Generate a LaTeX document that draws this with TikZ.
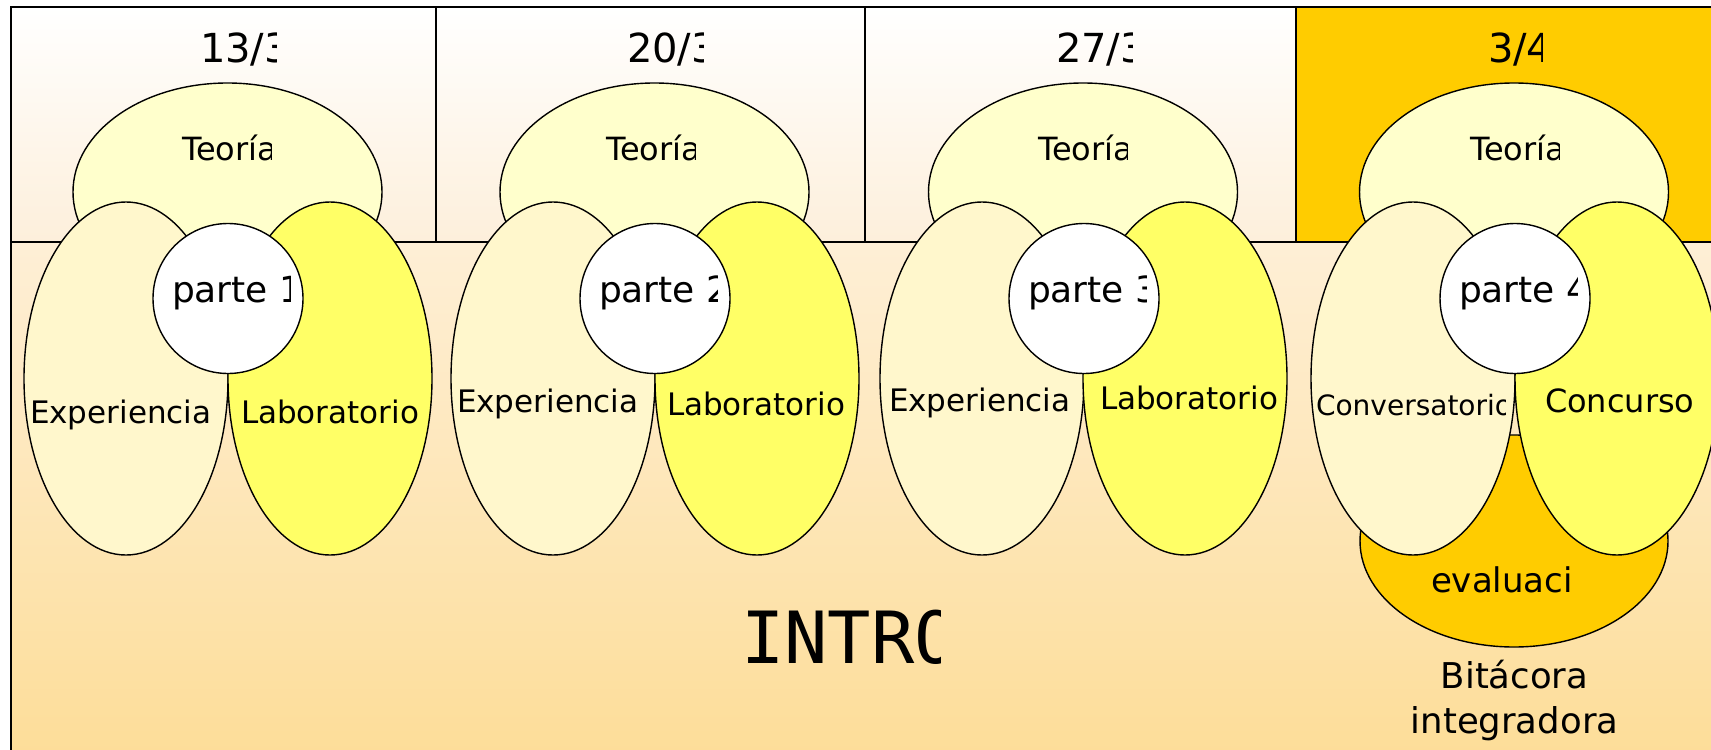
\documentclass[tikz,border=0pt]{standalone}
\usepackage{fontspec}
\setmainfont{DejaVu Sans}
\newfontfamily\introfont{DejaVu Sans Mono}
\usetikzlibrary{shapes.geometric}
\definecolor{teoriac}{HTML}{FFFFCC}
\definecolor{expc}{HTML}{FFF7CC}
\definecolor{labc}{HTML}{FFFF66}
\definecolor{evalc}{HTML}{FFCC00}
\definecolor{hdrbot}{HTML}{FDEFDB}
\definecolor{bodytop}{HTML}{FEEFD6}
\definecolor{bodybot}{HTML}{FDDD98}
\newcommand\clippedlabel[6]{%
  \begin{scope}
    \clip (#2-12,#3-85) rectangle (#4,#3+30);
    \node[lbl,#1] (#6) at (#2,#3) {#5};
  \end{scope}}
\begin{document}
\begin{tikzpicture}[x=0.5pt,y=-0.5pt,
  frame/.style={line width=0.85pt, draw=black},
  shp/.style={draw=black, line width=0.7pt, inner sep=0pt, outer sep=0pt},
  teobox/.style={shp, ellipse, fill=teoriac, minimum width=154.5pt, minimum height=109pt},
  expbox/.style={shp, ellipse, fill=expc, minimum width=102pt, minimum height=176.5pt},
  labbox/.style={shp, ellipse, fill=labc, minimum width=102pt, minimum height=176.5pt},
  evalbox/.style={shp, ellipse, fill=evalc, minimum width=154pt, minimum height=106pt},
  partebox/.style={shp, circle, fill=white, minimum size=75pt},
  lbl/.style={inner sep=0pt, outer sep=0pt, anchor=base west},
  dateF/.style={font=\fontsize{20}{23}\selectfont},
  teoF/.style={font=\fontsize{16}{19}\selectfont},
  parteF/.style={font=\fontsize{18}{21}\selectfont},
  expF/.style={font=\fontsize{15.5}{18}\selectfont},
  convF/.style={font=\fontsize{14}{17}\selectfont},
  concF/.style={font=\fontsize{16}{19}\selectfont},
  evalF/.style={font=\fontsize{17}{20}\selectfont},
  bitF/.style={font=\fontsize{17.75}{22.5}\selectfont, inner sep=0pt, anchor=base},
  introF/.style={font=\introfont\fontsize{36}{40}\selectfont}
]
\useasboundingbox (0,0) rectangle (1711,749);
\clip (0,0) rectangle (1711,749);
% background
\fill[white] (0,0) rectangle (1711,749);
\shade[top color=white, bottom color=hdrbot] (11,7) rectangle (1296,242);
\fill[evalc] (1296,7) rectangle (1730,242);
\shade[top color=bodytop, bottom color=bodybot] (11,242) rectangle (1730,760);
% frame
\draw[frame] (1730,7) -- (11,7) -- (11,760);
\draw[frame] (11,242) -- (1730,242);
\draw[frame] (436,7) -- (436,242);
\draw[frame] (865,7) -- (865,242);
\draw[frame] (1296,7) -- (1296,242);
% Teoria ellipses
\node[teobox] (t1) at (227.5,192) {};
\node[teobox] (t2) at (654.5,192) {};
\node[teobox] (t3) at (1083,192) {};
\node[teobox] (t4) at (1514,192) {};
% evaluacion
\node[evalbox] (ev) at (1514,541) {};
% experiencia / laboratorio
\node[expbox] (e1) at (126,378.5) {};
\node[labbox] (l1) at (330,378.5) {};
\node[expbox] (e2) at (553,378.5) {};
\node[labbox] (l2) at (757,378.5) {};
\node[expbox] (e3) at (982,378.5) {};
\node[labbox] (l3) at (1185,378.5) {};
\node[expbox] (e4) at (1413,378.5) {};
\node[labbox] (l4) at (1617,378.5) {};
% parte circles
\node[partebox] (p1) at (228,298.5) {};
\node[partebox] (p2) at (655,298.5) {};
\node[partebox] (p3) at (1084,298.5) {};
\node[partebox] (p4) at (1515,298.5) {};
% dates
\clippedlabel{dateF}{200}{63}{276}{13/3}{d1}
\clippedlabel{dateF}{627}{63}{703}{20/3}{d2}
\clippedlabel{dateF}{1056}{63}{1132}{27/3}{d3}
\clippedlabel{dateF}{1488}{63}{1542}{3/4}{d4}
% Teoria labels
\clippedlabel{teoF}{182}{160}{271}{Teoría}{tt1}
\clippedlabel{teoF}{606}{160}{695}{Teoría}{tt2}
\clippedlabel{teoF}{1038}{160}{1127}{Teoría}{tt3}
\clippedlabel{teoF}{1470}{160}{1559}{Teoría}{tt4}
% parte labels
\clippedlabel{parteF}{172}{302}{290}{parte 1}{pt1}
\clippedlabel{parteF}{599}{302}{717}{parte 2}{pt2}
\clippedlabel{parteF}{1028}{302}{1146}{parte 3}{pt3}
\clippedlabel{parteF}{1459}{302}{1577}{parte 4}{pt4}
% experiencia / laboratorio labels
\node[lbl,expF] (et1) at (30,423) {Experiencia};
\node[lbl,expF] (lt1) at (241,423) {Laboratorio};
\node[lbl,expF] (et2) at (457,412) {Experiencia};
\node[lbl,expF] (lt2) at (667,415) {Laboratorio};
\node[lbl,expF] (et3) at (889,411) {Experiencia};
\node[lbl,expF] (lt3) at (1100,409) {Laboratorio};
\clippedlabel{convF}{1316}{415}{1505}{Conversatorio}{ct4}
\node[lbl,concF] (cc4) at (1545,412) {Concurso};
% evaluacion label
\clippedlabel{evalF}{1431}{592}{1572}{evaluación}{evt}
% bitacora
\node[bitF] (bit1) at (1514.5,688) {Bitácora};
\node[bitF] (bit2) at (1514.5,733) {integradora};
% INTRO
\clippedlabel{introF}{741}{663}{940}{INTRO}{intro}
\end{tikzpicture}
\end{document}
